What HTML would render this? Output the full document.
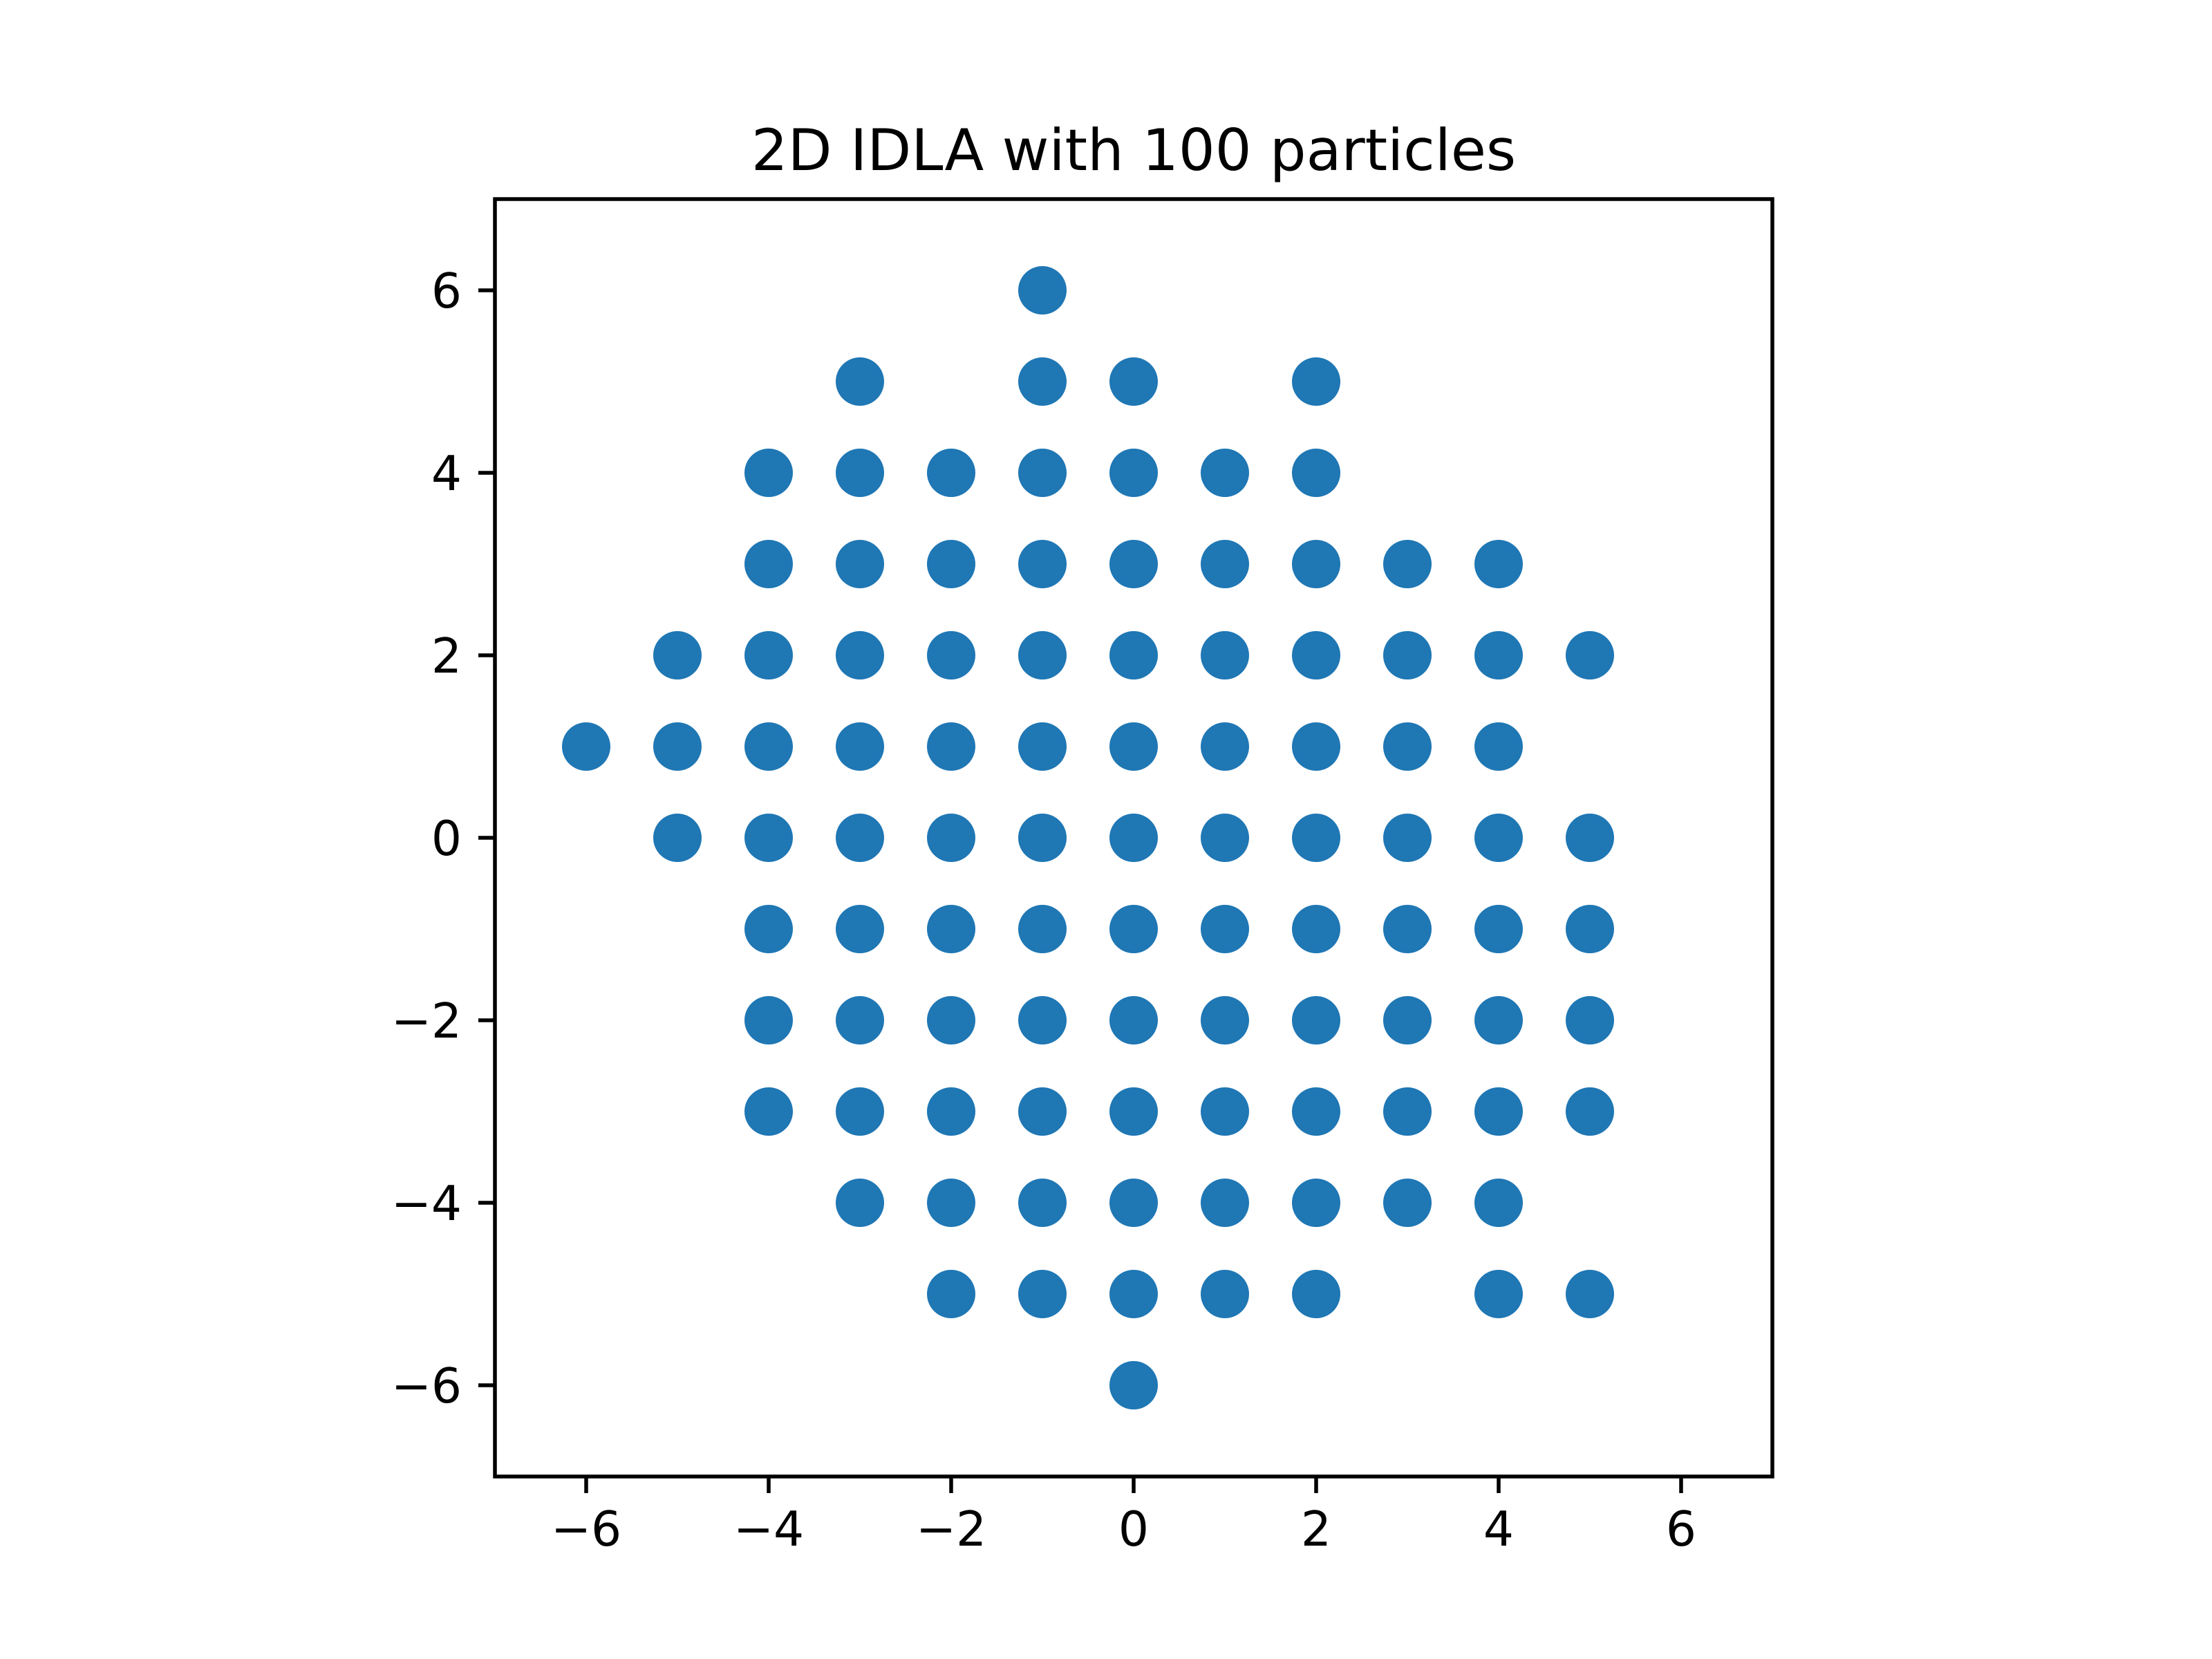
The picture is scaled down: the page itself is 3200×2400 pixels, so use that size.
<!DOCTYPE html>
<html><head><meta charset="utf-8"><style>
html,body{margin:0;padding:0;background:#fff;}
svg{display:block;}
text{font-family:"DejaVu Sans","Liberation Sans",sans-serif;fill:#000;}
</style></head><body>
<svg id="chart" width="3200" height="2400" viewBox="0 0 3200 2400" xmlns="http://www.w3.org/2000/svg">
<rect width="3200" height="2400" fill="#fff"/>
<text x="1640" y="246" font-size="83" text-anchor="middle">2D IDLA with 100 particles</text>
<g id="points"></g>
<rect x="716" y="288" width="1848" height="1848" fill="none" stroke="#000" stroke-width="5.5"/>
<g id="xticks"></g>
<g id="yticks"></g>
</svg>
<script>
const xTicks = [-6, -4, -2, 0, 2, 4, 6];
const yTicks = [-6, -4, -2, 0, 2, 4, 6];
const pointsX = [
 -1,
 -3,-1,0,2,
 -4,-3,-2,-1,0,1,2,
 -4,-3,-2,-1,0,1,2,3,4,
 -5,-4,-3,-2,-1,0,1,2,3,4,5,
 -6,-5,-4,-3,-2,-1,0,1,2,3,4,
 -5,-4,-3,-2,-1,0,1,2,3,4,5,
 -4,-3,-2,-1,0,1,2,3,4,5,
 -4,-3,-2,-1,0,1,2,3,4,5,
 -4,-3,-2,-1,0,1,2,3,4,5,
 -3,-2,-1,0,1,2,3,4,
 -2,-1,0,1,2,4,5,
 0];
const pointsY = [
 6,
 5,5,5,5,
 4,4,4,4,4,4,4,
 3,3,3,3,3,3,3,3,3,
 2,2,2,2,2,2,2,2,2,2,2,
 1,1,1,1,1,1,1,1,1,1,1,
 0,0,0,0,0,0,0,0,0,0,0,
 -1,-1,-1,-1,-1,-1,-1,-1,-1,-1,
 -2,-2,-2,-2,-2,-2,-2,-2,-2,-2,
 -3,-3,-3,-3,-3,-3,-3,-3,-3,-3,
 -4,-4,-4,-4,-4,-4,-4,-4,
 -5,-5,-5,-5,-5,-5,-5,
 -6];
const NS = "http://www.w3.org/2000/svg";
const L = 716, T = 288, W = 1848, H = 1848, xmin = -7, xmax = 7, ymin = -7, ymax = 7;
function sx(v){ return L + (v - xmin) / (xmax - xmin) * W; }
function sy(v){ return T + H - (v - ymin) / (ymax - ymin) * H; }
function lab(v){ return v < 0 ? "\u2212" + Math.abs(v) : String(v); }
const pg = document.getElementById("points");
for (let i = 0; i < pointsX.length; i++) {
  const c = document.createElementNS(NS, "circle");
  c.setAttribute("cx", sx(pointsX[i]));
  c.setAttribute("cy", sy(pointsY[i]));
  c.setAttribute("r", 35);
  c.setAttribute("fill", "#1f77b4");
  
  
  pg.appendChild(c);
}
const xg = document.getElementById("xticks");
xTicks.forEach(v => {
  const x = sx(v);
  const ln = document.createElementNS(NS, "line");
  ln.setAttribute("x1", x); ln.setAttribute("x2", x);
  ln.setAttribute("y1", T + H); ln.setAttribute("y2", T + H + 24);
  ln.setAttribute("stroke", "#000"); ln.setAttribute("stroke-width", 5.5);
  
  
  xg.appendChild(ln);
  const t = document.createElementNS(NS, "text");
  t.setAttribute("x", x); t.setAttribute("y", T + H + 48 + 52);
  t.setAttribute("font-size", 69.4); t.setAttribute("text-anchor", "middle");
  t.textContent = lab(v);
  
  
  xg.appendChild(t);
});
const yg = document.getElementById("yticks");
yTicks.forEach(v => {
  const y = sy(v);
  const ln = document.createElementNS(NS, "line");
  ln.setAttribute("x1", L - 24); ln.setAttribute("x2", L);
  ln.setAttribute("y1", y); ln.setAttribute("y2", y);
  ln.setAttribute("stroke", "#000"); ln.setAttribute("stroke-width", 5.5);
  
  
  yg.appendChild(ln);
  const t = document.createElementNS(NS, "text");
  t.setAttribute("x", L - 48); t.setAttribute("y", y + 25);
  t.setAttribute("font-size", 69.4); t.setAttribute("text-anchor", "end");
  t.textContent = lab(v);
  
  
  yg.appendChild(t);
});
</script>
</body></html>
